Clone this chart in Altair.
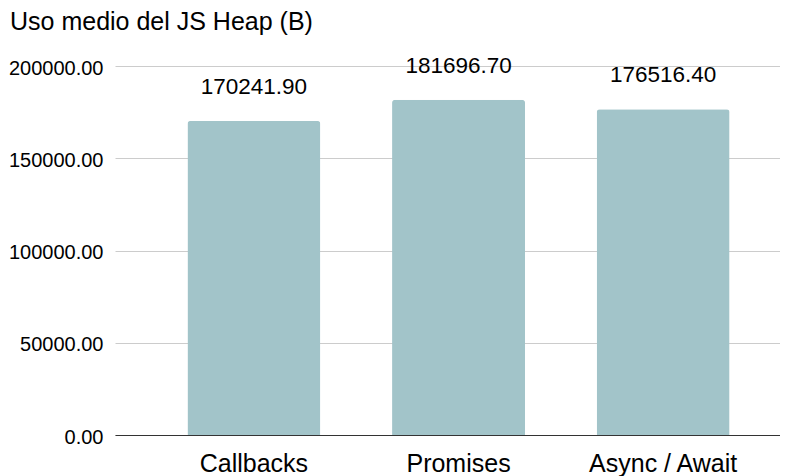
import altair as alt
import pandas as pd

categories = ["Callbacks", "Promises", "Async / Await"]
values = [170241.90, 181696.70, 176516.40]
labels = ["170241.90", "181696.70", "176516.40"]

df = pd.DataFrame({"cat": categories, "val": values, "lab": labels})

FONT = "Liberation Sans"

x = alt.X("cat:N", sort=categories, title=None,
          scale=alt.Scale(paddingInner=0.35, paddingOuter=0.3, align=0.59),
          axis=alt.Axis(labelAngle=0, ticks=False, tickSize=0, labelPadding=16,
                        labelFontSize=25, labelFont=FONT, labelColor="#000000",
                        domainColor="#333333", domainWidth=1, grid=False))
y = alt.Y("val:Q", title=None,
          scale=alt.Scale(domain=[0, 200000], nice=False),
          axis=alt.Axis(values=[0, 50000, 100000, 150000, 200000], format=".2f",
                        labelFontSize=20, labelFont=FONT, labelColor="#000000",
                        ticks=False, tickSize=0, labelPadding=12, domain=False,
                        gridColor="#cccccc", gridWidth=1, labelBaseline="middle",
                        labelOffset=2))

bars = alt.Chart(df).mark_bar(color="#a2c4c9", cornerRadiusTopLeft=3,
                              cornerRadiusTopRight=3).encode(x=x, y=y)
text = alt.Chart(df).mark_text(baseline="alphabetic", dy=-27, fontSize=22.5,
                               font=FONT, color="#000000").encode(
    x=alt.X("cat:N", sort=categories), y="val:Q", text="lab:N")

chart = (bars + text).properties(
    width=665, height=369,
    autosize=alt.AutoSizeParams(type="none"),
    padding={"left": 107, "top": 58, "right": 0, "bottom": 41},
    title=alt.TitleParams("Uso medio del JS Heap (B)", anchor="start", frame="group",
                          dx=-105, fontSize=25, font=FONT, fontWeight="normal",
                          color="#000000", offset=20),
).configure_view(stroke=None)

chart.save("out.html", embed_options={"renderer": "svg", "actions": False})
